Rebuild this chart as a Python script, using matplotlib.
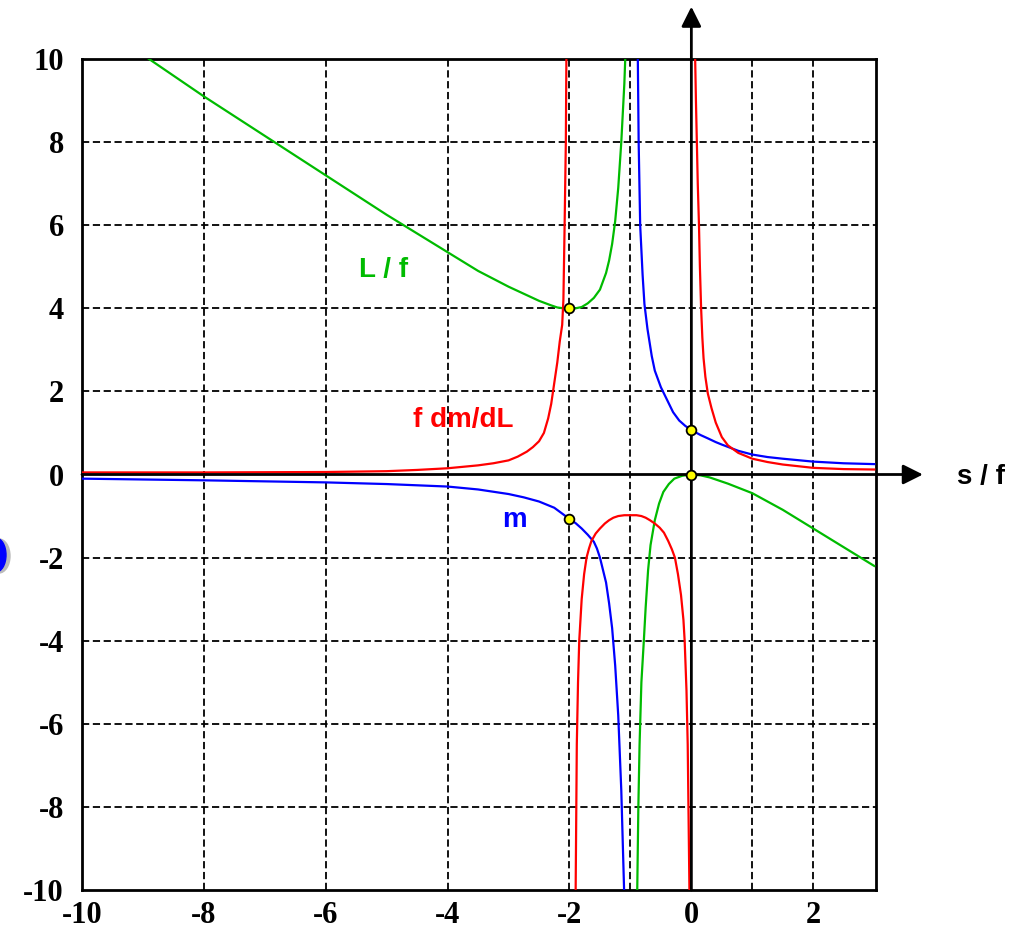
import numpy as np
import matplotlib.pyplot as plt
from matplotlib.patches import Ellipse

# values, one list per branch
m_x1 = [-10, -9, -8, -7, -6, -5, -4.5, -4, -3.5, -3, -2.75, -2.5, -2.25, -2, -1.9, -1.8, -1.7,
        -1.6, -1.55, -1.5, -1.45, -1.4, -1.35, -1.3, -1.25, -1.2, -1.15, -1.1]
m_y1 = [-0.1, -0.12, -0.14, -0.165, -0.19, -0.23, -0.26, -0.29, -0.36, -0.47, -0.55, -0.65, -0.8,
        -1.07, -1.17, -1.3, -1.45, -1.62, -1.78, -2.0, -2.3, -2.6, -3.1, -3.7, -4.6, -5.8, -7.6, -10.2]
m_x2 = [-0.88, -0.865, -0.84, -0.8, -0.77, -0.72, -0.65, -0.6, -0.5, -0.41, -0.3, -0.2, -0.1, 0,
        0.15, 0.27, 0.4, 0.5, 0.77, 1, 1.25, 1.5, 2, 2.5, 3]
m_y2 = [10.2, 8.0, 6.0, 4.8, 4.1, 3.5, 2.85, 2.5, 2.1, 1.83, 1.5, 1.3, 1.17, 1.07,
        0.95, 0.87, 0.78, 0.72, 0.57, 0.48, 0.42, 0.38, 0.31, 0.27, 0.25]

L_x1 = [-10, -8.9, -8, -7, -6, -5, -4, -3.5, -3, -2.75, -2.5, -2.3, -2.2, -2.1, -2, -1.9, -1.8,
        -1.7, -1.6, -1.5, -1.4, -1.35, -1.3, -1.25, -1.2, -1.15, -1.1, -1.08]
L_y1 = [11.1, 10.0, 9.1, 8.15, 7.2, 6.25, 5.35, 4.9, 4.52, 4.35, 4.18, 4.07, 4.02, 4.0, 4.0, 4.0,
        4.03, 4.12, 4.25, 4.45, 4.85, 5.15, 5.55, 6.1, 6.9, 8.0, 9.4, 10.2]
L_x2 = [-0.89, -0.87, -0.85, -0.82, -0.78, -0.75, -0.71, -0.67, -0.6, -0.53, -0.46, -0.37, -0.28,
        -0.15, 0, 0.15, 0.3, 0.6, 1, 1.5, 2, 2.5, 3]
L_y2 = [-10.2, -8.0, -6.5, -5.0, -4.0, -3.2, -2.3, -1.7, -1.1, -0.7, -0.42, -0.23, -0.1,
        -0.03, 0, -0.02, -0.07, -0.22, -0.45, -0.85, -1.3, -1.75, -2.2]

d_x1 = [-10, -8, -6, -5, -4.5, -4, -3.5, -3.25, -3, -2.85, -2.7, -2.6, -2.5, -2.42, -2.35, -2.3,
        -2.25, -2.2, -2.16, -2.12, -2.1, -2.08, -2.06, -2.05]
d_y1 = [0.05, 0.05, 0.06, 0.08, 0.11, 0.15, 0.22, 0.27, 0.34, 0.43, 0.55, 0.66, 0.8, 1.0, 1.35, 1.7,
        2.2, 2.7, 3.2, 3.6, 4.2, 6.0, 8.0, 10.2]
d_x2 = [-1.9, -1.88, -1.86, -1.84, -1.8, -1.76, -1.72, -1.68, -1.64, -1.57, -1.5, -1.42, -1.35,
        -1.28, -1.2, -1.1, -1.0, -0.9, -0.82, -0.75, -0.68, -0.6, -0.52, -0.45, -0.38, -0.32,
        -0.27, -0.22, -0.17, -0.13, -0.11, -0.08, -0.06, -0.03]
d_y2 = [-10.2, -6.5, -5.0, -4.0, -3.0, -2.4, -2.0, -1.78, -1.6, -1.42, -1.3, -1.18, -1.1,
        -1.04, -1.0, -0.98, -0.98, -0.98, -1.0, -1.04, -1.1, -1.18, -1.28, -1.4, -1.6, -1.8,
        -2.0, -2.4, -2.9, -3.5, -4.0, -5.2, -6.5, -10.2]
d_x3 = [0.06, 0.075, 0.09, 0.105, 0.125, 0.14, 0.16, 0.18, 0.2, 0.23, 0.27, 0.33, 0.4, 0.5, 0.6,
        0.77, 1, 1.25, 1.5, 2, 2.5, 3]
d_y3 = [10.2, 9.0, 8.0, 7.0, 6.0, 5.0, 4.0, 3.3, 2.8, 2.35, 1.95, 1.6, 1.25, 0.9, 0.7,
        0.52, 0.38, 0.3, 0.24, 0.16, 0.13, 0.12]

pts_x = [-2, -2, 0, 0]
pts_y = [4, -1.07, 1.07, 0]

xticks = [-10, -8, -6, -4, -2, 0, 2]
yticks = [-10, -8, -6, -4, -2, 0, 2, 4, 6, 8, 10]
grid_x = [-8, -6, -4, -2, -1, 1, 2]
grid_y = [-8, -6, -4, -2, 2, 4, 6, 8]

blue = '#0000ff'
red = '#ff0000'
green = '#00bb00'

fig = plt.figure(figsize=(10.17, 9.32), dpi=100)
ax = fig.add_axes([82/1017, 1-890/932, (876-82)/1017, (890-59)/932])
ax.set_xlim(-10, 3.03)
ax.set_ylim(-10, 10)

for gx in grid_x:
    ax.axvline(gx, color='k', lw=1.3, ls=(0, (4, 2)), zorder=1)
for gy in grid_y:
    ax.axhline(gy, color='k', lw=1.3, ls=(0, (4, 2)), zorder=1)

ax.plot(m_x1, m_y1, color=blue, lw=1.6, zorder=3)
ax.plot(m_x2, m_y2, color=blue, lw=1.6, zorder=3)
ax.plot(L_x1, L_y1, color=green, lw=1.6, zorder=3)
ax.plot(L_x2, L_y2, color=green, lw=1.6, zorder=3)
ax.plot(d_x1, d_y1, color=red, lw=1.6, zorder=3)
ax.plot(d_x2, d_y2, color=red, lw=1.6, zorder=3)
ax.plot(d_x3, d_y3, color=red, lw=1.6, zorder=3)

# axes with arrows
arr = dict(arrowstyle='-|>,head_length=0.8,head_width=0.4', color='k', lw=2,
           mutation_scale=15, shrinkA=0, shrinkB=0)
ax.annotate('', xy=(0, 11.26), xytext=(0, -10), arrowprops=arr,
            annotation_clip=False, zorder=4)
ax.annotate('', xy=(3.8, 0), xytext=(-10, 0), arrowprops=arr,
            annotation_clip=False, zorder=4)

ax.plot(pts_x, pts_y, 'o', ms=7, mfc='#ffff00', mec='k', mew=1.3, zorder=6)

ax.text(-5.05, 4.93, 'L / f', color=green, fontsize=20, fontweight='bold',
        family='Liberation Sans', ha='center', va='center')
ax.text(-3.74, 1.32, 'f dm/dL', color=red, fontsize=20, fontweight='bold',
        family='Liberation Sans', ha='center', va='center')
ax.text(-2.9, -1.1, 'm', color=blue, fontsize=20, fontweight='bold',
        family='Liberation Sans', ha='center', va='center')
ax.text(4.75, -0.05, 's / f', color='k', fontsize=20, fontweight='bold',
        family='Liberation Sans', ha='center', va='center', clip_on=False)

ax.set_xticks(xticks)
ax.set_yticks(yticks)
ax.set_xticklabels([str(t) for t in xticks])
ax.set_yticklabels([str(t) for t in yticks])
ax.tick_params(length=0, labelsize=22)
ax.tick_params(axis='x', pad=8)
ax.tick_params(axis='y', pad=13)
for lab in ax.get_xticklabels() + ax.get_yticklabels():
    lab.set_fontfamily('Liberation Serif')
    lab.set_fontweight('bold')
for s in ax.spines.values():
    s.set_linewidth(2)

# clipped blue blob at the left edge
fig.patches.append(Ellipse((-1/1017, 1-556/932), 22/1017, 34/932, color='#bbbbbb',
                           transform=fig.transFigure, figure=fig))
fig.patches.append(Ellipse((-4/1017, 1-555/932), 20/1017, 34/932, color=blue,
                           transform=fig.transFigure, figure=fig))

fig.savefig('out.png', dpi=100)
